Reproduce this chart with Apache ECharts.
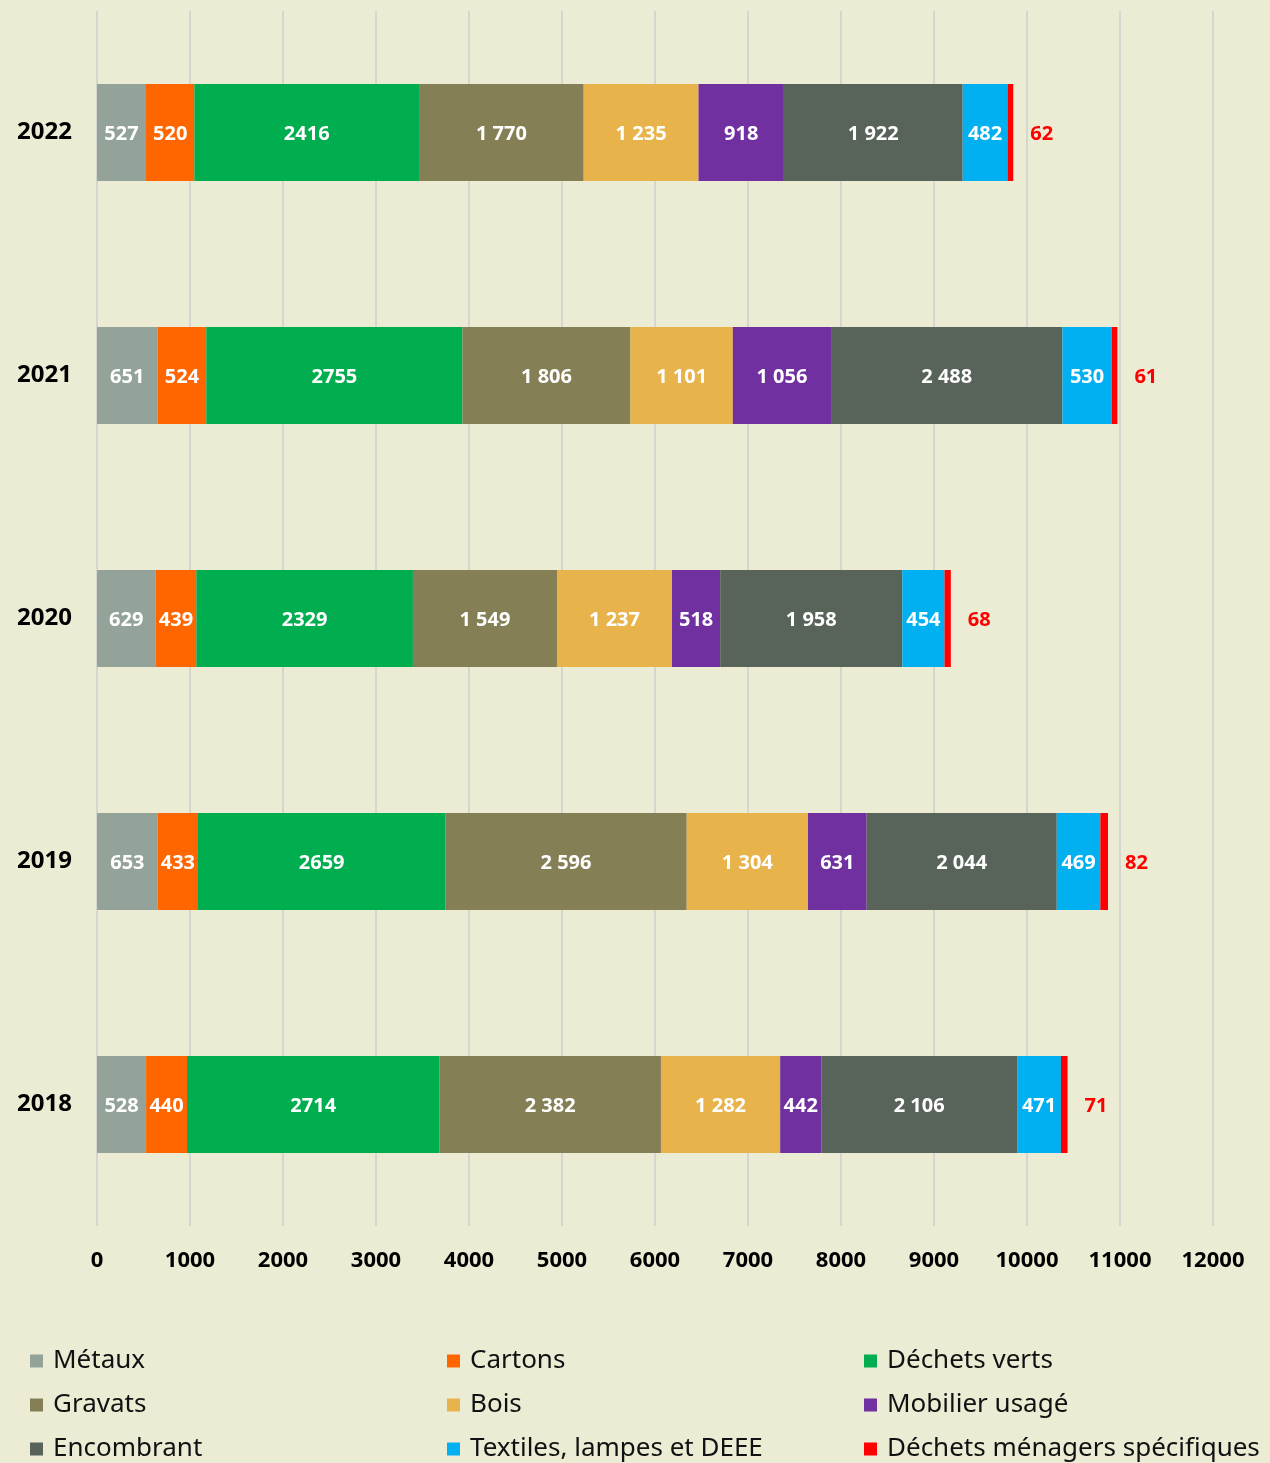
<!DOCTYPE html>
<html>
<head>
<meta charset="utf-8">
<script src="https://cdn.jsdelivr.net/npm/echarts@6/dist/echarts.min.js"></script>
<style>
  html, body { margin: 0; padding: 0; background: #ECEBD3; }
  #chart { width: 1270px; height: 1463px; }
</style>
</head>
<body>
<div id="chart"></div>
<script>
// years, bottom to top
const years = ['2018', '2019', '2020', '2021', '2022'];
const xTicks = [0, 12000, 1000];

const metaux = [528, 653, 629, 651, 527];
const cartons = [440, 433, 439, 524, 520];
const dechetsVerts = [2714, 2659, 2329, 2755, 2416];
const gravats = [2382, 2596, 1549, 1806, 1770];
const bois = [1282, 1304, 1237, 1101, 1235];
const mobilier = [442, 631, 518, 1056, 918];
const encombrant = [2106, 2044, 1958, 2488, 1922];
const textiles = [471, 469, 454, 530, 482];
const dms = [71, 82, 68, 61, 62];

const font = '"Noto Sans", sans-serif';

function spaced(v) {
  return String(v).replace(/\B(?=(\d{3})+(?!\d))/g, ' ');
}

function mkSeries(name, data, color, opts) {
  opts = opts || {};
  return {
    name: name,
    type: 'bar',
    stack: 'total',
    barWidth: 97,
    data: data,
    itemStyle: { color: color },
    label: {
      show: true,
      position: opts.outside ? 'right' : 'inside',
      distance: opts.outside ? 17 : 5,
      offset: [0, 2],
      color: opts.outside ? '#FF0000' : '#FFFFFF',
      fontFamily: font,
      fontWeight: 'bold',
      fontSize: 20,
      formatter: p => opts.plain ? String(p.value) : spaced(p.value)
    }
  };
}

const chart = echarts.init(document.getElementById('chart'));

const legendText = { fontFamily: font, fontSize: 26, color: '#111', padding: [0, 0, 0, 5] };
function mkLegend(left, names) {
  return {
    orient: 'vertical',
    left: left,
    top: 1348,
    height: 200,
    padding: 0,
    itemWidth: 13,
    itemHeight: 13,
    itemGap: 18,
    icon: 'rect',
    textStyle: legendText,
    data: names
  };
}

chart.setOption({
  backgroundColor: '#ECEBD3',
  animation: false,
  grid: { left: 97, right: 57, top: 11, bottom: 237, containLabel: false },
  xAxis: {
    type: 'value',
    min: xTicks[0],
    max: xTicks[1],
    interval: xTicks[2],
    axisLine: { show: false },
    axisTick: { show: false },
    splitLine: { show: true, lineStyle: { color: '#D6D6D0', width: 2 } },
    axisLabel: {
      margin: 24,
      color: '#000',
      fontFamily: font,
      fontWeight: 'bold',
      fontSize: 22,
      formatter: v => String(v)
    }
  },
  yAxis: {
    type: 'category',
    data: years,
    axisLine: { show: false },
    axisTick: { show: false },
    axisLabel: {
      margin: 25,
      padding: [7, 0, 0, 0],
      color: '#000',
      fontFamily: font,
      fontWeight: 'bold',
      fontSize: 24
    }
  },
  legend: [
    mkLegend(30, ['Métaux', 'Gravats', 'Encombrant']),
    mkLegend(447, ['Cartons', 'Bois', 'Textiles, lampes et DEEE']),
    mkLegend(864, ['Déchets verts', 'Mobilier usagé', 'Déchets ménagers spécifiques'])
  ],
  series: [
    mkSeries('Métaux', metaux, '#94A39A'),
    mkSeries('Cartons', cartons, '#FF6600'),
    mkSeries('Déchets verts', dechetsVerts, '#00AD4F', { plain: true }),
    mkSeries('Gravats', gravats, '#857F56'),
    mkSeries('Bois', bois, '#E8B34B'),
    mkSeries('Mobilier usagé', mobilier, '#7030A0'),
    mkSeries('Encombrant', encombrant, '#58645A'),
    mkSeries('Textiles, lampes et DEEE', textiles, '#00B0F0'),
    mkSeries('Déchets ménagers spécifiques', dms, '#FF0000', { outside: true })
  ]
});
</script>
</body>
</html>
